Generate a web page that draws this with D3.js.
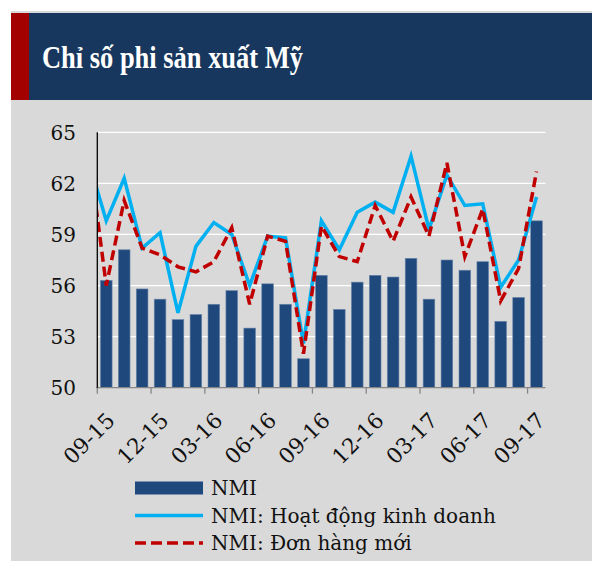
<!DOCTYPE html>
<html><head><meta charset="utf-8">
<script src="https://cdn.jsdelivr.net/npm/d3@7"></script>
<style>html,body{margin:0;padding:0;background:#fff;}svg{display:block;}</style>
</head><body>
<script>
const months = ["09-15","10-15","11-15","12-15","01-16","02-16","03-16","04-16","05-16","06-16","07-16","08-16","09-16","10-16","11-16","12-16","01-17","02-17","03-17","04-17","05-17","06-17","07-17","08-17","09-17"];
const nmi = [56.3,58.1,55.8,55.2,54.0,54.3,54.9,55.7,53.5,56.1,54.9,51.7,56.6,54.6,56.2,56.6,56.5,57.6,55.2,57.5,56.9,57.4,53.9,55.3,59.8];
const activity = [59.8,62.3,58.2,59.1,54.4,58.3,59.7,59.0,56.0,58.9,58.8,52.6,59.8,58.1,60.3,60.9,60.3,63.6,59.3,62.5,60.7,60.8,55.9,57.5,61.2];
const orders = [56.0,61.0,58.2,57.8,57.1,56.8,57.4,59.4,54.9,58.9,58.6,52.0,59.5,57.7,57.4,60.7,58.6,61.2,58.9,63.2,57.7,60.5,55.1,57.0,62.7];
// previous month (08-15), partly visible at the left edge
const activityPrev = 63.4;
const ordersPrev = 64.1;
const yTicks = [50,53,56,59,62,65];
const tickLabels = ["09-15","12-15","03-16","06-16","09-16","12-16","03-17","06-17","09-17"];
const seriesNames = ["NMI","NMI: Hoạt động kinh doanh","NMI: Đơn hàng mới"];
const title = "Chỉ số phi sản xuất Mỹ";

const W = 592, H = 561;
const svg = d3.select("body").append("svg").attr("width", W).attr("height", H);
const F = "'DejaVu Serif', serif";

// panel
svg.append("rect").attr("x", 11).attr("y", 11).attr("width", W - 11).attr("height", H - 11).attr("fill", "#d9d9d9");
svg.append("rect").attr("x", 11).attr("y", 13).attr("width", W - 11).attr("height", 87).attr("fill", "#17375e");
svg.append("rect").attr("x", 11).attr("y", 13).attr("width", 18).attr("height", 87).attr("fill", "#a30000");
svg.append("text").attr("transform", "translate(42,68) scale(0.98,1.13)").attr("fill", "#fff")
  .attr("font-family", "'Liberation Serif', serif").attr("font-weight", "bold").attr("font-size", 27)
  .text(title);

const pL = 97.3, pR = 545.5, pT = 132.3, pB = 387.7;
const y = d3.scaleLinear().domain([50, 65]).range([pB, pT]);
const xb = d3.scaleBand().domain(months).range([pL, pR]).paddingInner(0.35).paddingOuter(0.175);
const xi = d3.scaleLinear().domain([-0.5, months.length - 0.5]).range([pL, pR]);

// gridlines
svg.append("g").selectAll("line").data(yTicks.filter(t => t > 50)).join("line")
  .attr("x1", pL).attr("x2", pR).attr("y1", d => y(d)).attr("y2", d => y(d))
  .attr("stroke", "#ffffff").attr("stroke-width", 1.3);

// y labels
svg.append("g").selectAll("text").data(yTicks).join("text")
  .attr("x", 76).attr("y", d => y(d)).attr("dy", "0.36em").attr("text-anchor", "end")
  .attr("font-family", F).attr("font-size", 20).attr("fill", "#111").text(d => d);

// bars
svg.append("g").selectAll("rect").data(months).join("rect")
  .attr("x", d => xb(d)).attr("width", xb.bandwidth())
  .attr("y", (d, i) => y(nmi[i])).attr("height", (d, i) => y(50) - y(nmi[i]))
  .attr("fill", "#1f497d").attr("stroke", "#6a86ab").attr("stroke-width", 0.6);

// clip for lines
svg.append("clipPath").attr("id", "clip").append("rect")
  .attr("x", pL).attr("y", 0).attr("width", pR - pL).attr("height", H);

const line = d3.line().x(d => xi(d[0])).y(d => y(d[1]));
const actPts = [[-1, activityPrev]].concat(activity.map((v, i) => [i, v]));
const ordPts = [[-1, ordersPrev]].concat(orders.map((v, i) => [i, v]));

const lg = svg.append("g").attr("clip-path", "url(#clip)");
lg.append("path").attr("d", line(actPts)).attr("fill", "none")
  .attr("stroke", "#00b0f0").attr("stroke-width", 3.5).attr("stroke-linejoin", "miter");
lg.append("path").attr("d", line(ordPts)).attr("fill", "none")
  .attr("stroke", "#c00000").attr("stroke-width", 3.5).attr("stroke-dasharray", "10,5");

// axes lines
svg.append("line").attr("x1", pL - 1).attr("x2", pR).attr("y1", pB).attr("y2", pB)
  .attr("stroke", "#868686").attr("stroke-width", 1.3);
svg.append("g").selectAll("line").data(d3.range(0, months.length, 3)).join("line")
  .attr("x1", d => xi(d - 0.5)).attr("x2", d => xi(d - 0.5))
  .attr("y1", pB).attr("y2", pB + 6).attr("stroke", "#868686").attr("stroke-width", 1.3);
svg.append("line").attr("x1", pL).attr("x2", pL).attr("y1", pT).attr("y2", pB)
  .attr("stroke", "#000").attr("stroke-width", 1.3);

// x labels
svg.append("g").selectAll("text").data(tickLabels).join("text")
  .attr("transform", d => `translate(${xi(months.indexOf(d)) + 10},${pB + 34}) rotate(-45)`)
  .attr("text-anchor", "end").attr("font-family", F).attr("font-size", 21.5).attr("fill", "#111")
  .text(d => d);

// legend
const lgX = 135, lgW = 68, tX = 211;
const rows = [488, 515.5, 543];
svg.append("rect").attr("x", lgX).attr("y", rows[0] - 6.5).attr("width", lgW).attr("height", 13).attr("fill", "#1f497d");
svg.append("line").attr("x1", lgX).attr("x2", lgX + lgW).attr("y1", rows[1]).attr("y2", rows[1])
  .attr("stroke", "#00b0f0").attr("stroke-width", 3.5);
svg.append("line").attr("x1", lgX).attr("x2", lgX + lgW).attr("y1", rows[2]).attr("y2", rows[2])
  .attr("stroke", "#c00000").attr("stroke-width", 3.5).attr("stroke-dasharray", "11,5");
svg.append("g").selectAll("text").data(seriesNames).join("text")
  .attr("x", tX).attr("y", (d, i) => rows[i] + 7.3)
  .attr("font-family", F).attr("font-size", 20).attr("fill", "#111").text(d => d);
</script>
</body></html>
